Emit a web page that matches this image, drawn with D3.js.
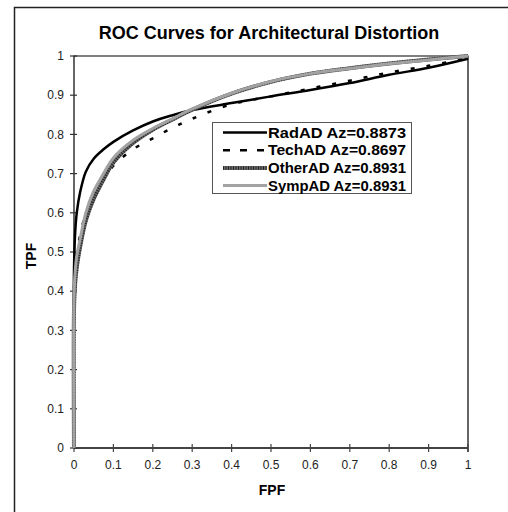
<!DOCTYPE html>
<html lang="en">
<head>
  <meta charset="UTF-8">
  <title>ROC Curves for Architectural Distortion</title>
  <style>
    body { margin: 0; background: #fff; }
    text { font-family: Arial, "Liberation Sans", sans-serif; }
  </style>
</head>
<body>
  <script src="https://cdn.jsdelivr.net/npm/d3@7/dist/d3.min.js"></script>
  <script>
    // FPF sample points shared by all curves (first two = vertical start on the axis)
    var fpf = [0, 0, 0.003, 0.007, 0.015, 0.03, 0.05, 0.075, 0.1, 0.15, 0.2, 0.25, 0.3, 0.4, 0.5, 0.6, 0.7, 0.8, 0.9, 1];
    var radTpf   = [0, 0.45, 0.55, 0.60, 0.65, 0.705, 0.738, 0.762, 0.781, 0.81, 0.833, 0.849, 0.862, 0.88, 0.897, 0.913, 0.931, 0.952, 0.97, 0.993];
    var techTpf  = [0, 0.40, 0.46, 0.50, 0.54, 0.60, 0.645, 0.685, 0.72, 0.762, 0.79, 0.817, 0.84, 0.877, 0.897, 0.917, 0.937, 0.958, 0.975, 0.995];
    var otherTpf = [0, 0.35, 0.42, 0.46, 0.51, 0.58, 0.635, 0.685, 0.728, 0.778, 0.812, 0.838, 0.863, 0.904, 0.934, 0.955, 0.969, 0.981, 0.991, 1];
    var sympTpf  = [0, 0.38, 0.45, 0.49, 0.53, 0.60, 0.655, 0.70, 0.74, 0.785, 0.815, 0.84, 0.865, 0.905, 0.935, 0.955, 0.968, 0.98, 0.99, 1];
    var seriesNames = ["RadAD Az=0.8873", "TechAD Az=0.8697", "OtherAD Az=0.8931", "SympAD Az=0.8931"];
    var ticks = [0, 0.1, 0.2, 0.3, 0.4, 0.5, 0.6, 0.7, 0.8, 0.9, 1];

    var width = 508, height = 512;
    var plotL = 74, plotR = 468, plotT = 56, plotB = 448;

    var svg = d3.select("body").append("svg")
      .attr("width", width)
      .attr("height", height);

    svg.append("rect").attr("width", width).attr("height", height).attr("fill", "#fff");

    // outer chart frame (right / bottom edges are off the page)
    svg.append("path")
      .attr("d", "M14.5,512V7.5H508")
      .attr("fill", "none").attr("stroke", "#222").attr("stroke-width", 1.5);

    var x = d3.scaleLinear().domain([0, 1]).range([plotL, plotR]);
    var y = d3.scaleLinear().domain([0, 1]).range([plotB, plotT]);

    // plot frame
    svg.append("path")
      .attr("d", "M" + plotL + "," + plotB + "V" + plotT + "H" + plotR + "V" + (plotB + 4))
      .attr("fill", "none").attr("stroke", "#000").attr("stroke-width", 1.2);

    // x axis
    var gx = svg.append("g").attr("transform", "translate(0," + plotB + ")");
    gx.append("line").attr("x1", plotL).attr("x2", plotR)
      .attr("stroke", "#444").attr("stroke-width", 2);
    gx.selectAll("line.tick").data(ticks).enter().append("line")
      .attr("class", "tick")
      .attr("x1", function (d) { return x(d); }).attr("x2", function (d) { return x(d); })
      .attr("y1", -4).attr("y2", 4)
      .attr("stroke", "#444").attr("stroke-width", 1.2);
    gx.selectAll("text").data(ticks).enter().append("text")
      .attr("x", function (d) { return x(d); })
      .attr("y", 21)
      .attr("text-anchor", "middle")
      .attr("font-size", 12)
      .attr("fill", "#222")
      .text(function (d) { return d; });

    // y axis
    var gy = svg.append("g").attr("transform", "translate(" + plotL + ",0)");
    gy.selectAll("line").data(ticks).enter().append("line")
      .attr("x1", -4).attr("x2", 3)
      .attr("y1", function (d) { return y(d); }).attr("y2", function (d) { return y(d); })
      .attr("stroke", "#333").attr("stroke-width", 1.2);
    gy.selectAll("text").data(ticks).enter().append("text")
      .attr("x", -10)
      .attr("y", function (d) { return y(d); })
      .attr("dy", "0.35em")
      .attr("text-anchor", "end")
      .attr("font-size", 12)
      .attr("fill", "#222")
      .text(function (d) { return d; });

    // titles
    svg.append("text")
      .attr("x", 269).attr("y", 39)
      .attr("text-anchor", "middle")
      .attr("font-size", 18).attr("font-weight", "bold")
      .text("ROC Curves for Architectural Distortion");
    svg.append("text")
      .attr("x", 272).attr("y", 495)
      .attr("text-anchor", "middle")
      .attr("font-size", 14).attr("font-weight", "bold")
      .text("FPF");
    svg.append("text")
      .attr("transform", "translate(36,256) rotate(-90)")
      .attr("text-anchor", "middle")
      .attr("font-size", 14).attr("font-weight", "bold")
      .text("TPF");

    // line styles, each a list of stroke layers
    var styles = [
      [{ stroke: "#000", width: 2.5, dash: null, legendDash: null }],
      [{ stroke: "#000", width: 2.5, dash: "4,12", legendDash: "7,10" }],
      [{ stroke: "#6a6a6a", width: 4, dash: null, legendDash: null },
       { stroke: "#222", width: 3.5, dash: "1,1.5", legendDash: "1,1.5" }],
      [{ stroke: "#a2a2a2", width: 3, dash: null, legendDash: null }]
    ];
    var tpfs = [radTpf, techTpf, otherTpf, sympTpf];

    var line = d3.line()
      .x(function (d) { return x(d[0]); })
      .y(function (d) { return y(d[1]); })
      .curve(d3.curveCatmullRom.alpha(0.5));

    tpfs.forEach(function (tpf, i) {
      var pts = fpf.map(function (f, j) { return [f, tpf[j]]; });
      styles[i].forEach(function (s) {
        svg.append("path")
          .attr("d", line(pts))
          .attr("fill", "none")
          .attr("stroke", s.stroke)
          .attr("stroke-width", s.width)
          .attr("stroke-dasharray", s.dash);
      });
    });

    // legend
    var lg = svg.append("g");
    lg.append("rect")
      .attr("x", 212.5).attr("y", 122.5).attr("width", 199).attr("height", 71)
      .attr("fill", "#fff").attr("stroke", "#555").attr("stroke-width", 1);
    seriesNames.forEach(function (name, i) {
      var cy = 132.5 + i * 17.7;
      styles[i].forEach(function (s) {
        lg.append("line")
          .attr("x1", 223).attr("x2", 267)
          .attr("y1", cy).attr("y2", cy)
          .attr("stroke", s.stroke)
          .attr("stroke-width", s.width)
          .attr("stroke-dasharray", s.legendDash);
      });
      lg.append("text")
        .attr("x", 268).attr("y", cy + 5)
        .attr("font-size", 14).attr("font-weight", "bold")
        .attr("textLength", 138).attr("lengthAdjust", "spacingAndGlyphs")
        .text(name);
    });
  </script>
</body>
</html>
